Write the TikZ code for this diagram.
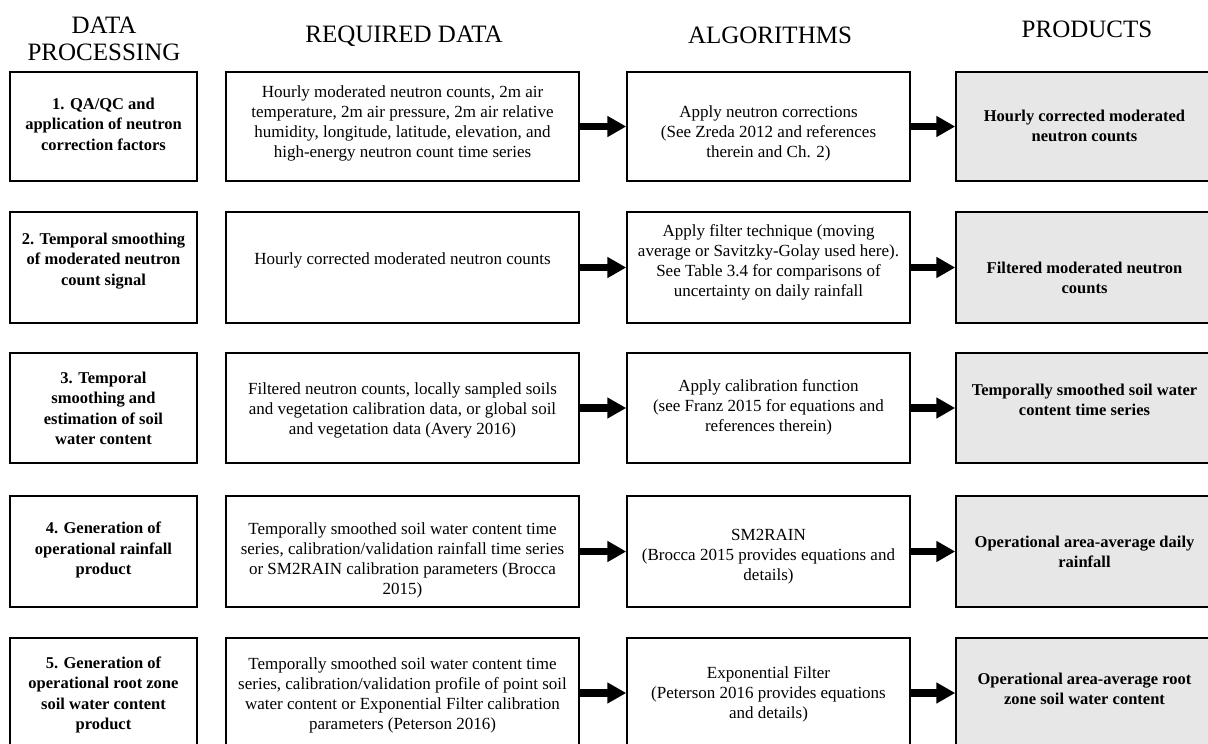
\documentclass[tikz,border=0pt]{standalone}
\usepackage{fontspec}
\setmainfont{Liberation Serif}
\usetikzlibrary{arrows.meta}
\definecolor{prodgray}{RGB}{231,231,231}
\begin{document}
\begin{tikzpicture}[x=1pt,y=-1pt,
  boxbase/.style={draw=black, line width=1.5pt, rectangle, inner sep=0pt},
  procbox/.style={boxbase, minimum width=187pt, minimum height=#1pt},
  databox/.style={boxbase, minimum width=353pt, minimum height=#1pt},
  algbox/.style={boxbase, minimum width=283pt, minimum height=#1pt},
  prodbox/.style={boxbase, fill=prodgray, minimum width=258pt, minimum height=#1pt},
  txt/.style={align=center, font=\fontsize{17}{20}\selectfont, inner sep=0pt},
  btxt/.style={align=center, font=\fontsize{16.5}{20.5}\selectfont\bfseries, inner sep=0pt},
  head/.style={align=center, font=\fontsize{25}{27}\selectfont, inner sep=0pt},
  bigarrow/.style={line width=7.5pt, -{Triangle[length=19pt,width=20pt]}}
]
\useasboundingbox (0,0) rectangle (1208,744);
\clip (0,0) rectangle (1208,744);

% headers
\node[head] (h1) at (104,38.5) {DATA\\PROCESSING};
\node[head, anchor=base] (h2) at (404,42.3) {REQUIRED DATA};
\node[head, anchor=base] (h3) at (770,43.3) {ALGORITHMS};
\node[head, anchor=base] (h4) at (1087,37.3) {PRODUCTS};

% boxes
\node[procbox=109] (p1) at (103.5,126.5) {};
\node[procbox=111] (p2) at (103.5,267.5) {};
\node[procbox=110] (p3) at (103.5,408) {};
\node[procbox=111] (p4) at (103.5,551.5) {};
\node[procbox=110] (p5) at (103.5,693) {};

\node[databox=109] (d1) at (402.5,126.5) {};
\node[databox=111] (d2) at (402.5,267.5) {};
\node[databox=110] (d3) at (402.5,408) {};
\node[databox=111] (d4) at (402.5,551.5) {};
\node[databox=110] (d5) at (402.5,693) {};

\node[algbox=109] (a1) at (768.5,126.5) {};
\node[algbox=111] (a2) at (768.5,267.5) {};
\node[algbox=110] (a3) at (768.5,408) {};
\node[algbox=111] (a4) at (768.5,551.5) {};
\node[algbox=110] (a5) at (768.5,693) {};

\node[prodbox=109] (o1) at (1085,126.5) {};
\node[prodbox=111] (o2) at (1085,267.5) {};
\node[prodbox=110] (o3) at (1085,408) {};
\node[prodbox=111] (o4) at (1085,551.5) {};
\node[prodbox=110] (o5) at (1085,693) {};

% texts: data processing
\node[btxt] (tp1) at (103.5,124) {1. QA/QC and\\application of neutron\\correction factors};
\node[btxt] (tp2) at (103.5,261) {2. Temporal smoothing\\of moderated neutron\\count signal};
\node[btxt] (tp3) at (103.5,408.5) {3. Temporal\\smoothing and\\estimation of soil\\water content};
\node[btxt] (tp4) at (103.5,550) {4. Generation of\\operational rainfall\\product};
\node[btxt] (tp5) at (103.5,695) {5. Generation of\\operational root zone\\soil water content\\product};

% texts: required data
\node[txt] (td1) at (402.5,123.5) {Hourly moderated neutron counts, 2m air\\temperature, 2m air pressure, 2m air relative\\humidity, longitude, latitude, elevation, and\\high-energy neutron count time series};
\node[txt] (td2) at (402.5,260) {Hourly corrected moderated neutron counts};
\node[txt] (td3) at (402.5,410) {Filtered neutron counts, locally sampled soils\\and vegetation calibration data, or global soil\\and vegetation data (Avery 2016)};
\node[txt] (td4) at (402.5,560) {Temporally smoothed soil water content time\\series, calibration/validation rainfall time series\\or SM2RAIN calibration parameters (Brocca\\2015)};
\node[txt] (td5) at (402.5,695) {Temporally smoothed soil water content time\\series, calibration/validation profile of point soil\\water content or Exponential Filter calibration\\parameters (Peterson 2016)};

% texts: algorithms
\node[txt] (ta1) at (768.5,133) {Apply neutron corrections\\(See Zreda 2012 and references\\therein and Ch. 2)};
\node[txt] (ta2) at (768.5,262) {Apply filter technique (moving\\average or Savitzky-Golay used here).\\See Table 3.4 for comparisons of\\uncertainty on daily rainfall};
\node[txt] (ta3) at (768.5,407) {Apply calibration function\\(see Franz 2015 for equations and\\references therein)};
\node[txt] (ta4) at (768.5,557) {SM2RAIN\\(Brocca 2015 provides equations and\\details)};
\node[txt] (ta5) at (768.5,694) {Exponential Filter\\(Peterson 2016 provides equations\\and details)};

% texts: products
\node[btxt] (to1) at (1084.5,126) {Hourly corrected moderated\\neutron counts};
\node[btxt] (to2) at (1084.5,278) {Filtered moderated neutron\\counts};
\node[btxt] (to3) at (1084.5,400) {Temporally smoothed soil water\\content time series};
\node[btxt] (to4) at (1084.5,552) {Operational area-average daily\\rainfall};
\node[btxt] (to5) at (1084.5,689) {Operational area-average root\\zone soil water content};

% arrows
\foreach \i in {1,...,5}{
  \draw[bigarrow] (d\i.east) -- (a\i.west);
  \draw[bigarrow] (a\i.east) -- (o\i.west);
}
\end{tikzpicture}
\end{document}
